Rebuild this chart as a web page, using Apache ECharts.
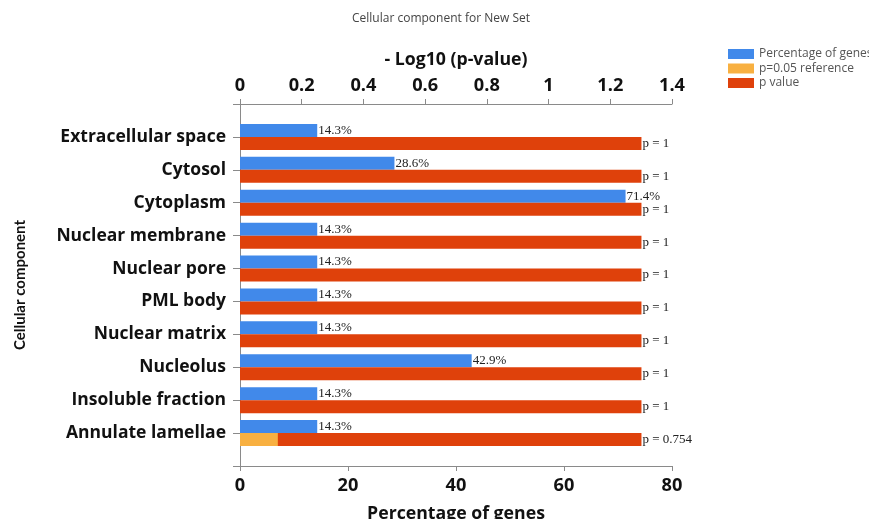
<!DOCTYPE html>
<html>
<head>
<meta charset="utf-8">
<script src="https://cdn.jsdelivr.net/npm/echarts@6/dist/echarts.min.js"></script>
<style>html,body{margin:0;padding:0;background:#fff}#c{width:869px;height:519px}</style>
</head>
<body>
<div id="c"></div>
<script>
const categories = ['Extracellular space','Cytosol','Cytoplasm','Nuclear membrane','Nuclear pore','PML body','Nuclear matrix','Nucleolus','Insoluble fraction','Annulate lamellae'];
const percentGenes = [14.3, 28.6, 71.4, 14.3, 14.3, 14.3, 14.3, 42.9, 14.3, 14.3];
const pValues = [1, 1, 1, 1, 1, 1, 1, 1, 1, 0.754];
const pReference = 0.05;
const bottomTicks = {min: 0, max: 80, interval: 20};
const topTicks = {min: 0, max: 1.4, interval: 0.2};

// pad with an empty slot at each end (the original axis leaves one step free at top and bottom)
const yCats = [''].concat(categories, ['']);
const pad = arr => [null].concat(arr, [null]);
const pctData = pad(percentGenes);
const refData = pad(pValues.map(() => -Math.log10(pReference)));
const logPData = pad(pValues.map(p => -Math.log10(p)));
const emptyData = pad(pValues.map(() => null));

// choose font sizes so that text widths match the reference picture
const boldFont = 'Open Sans';
const mctx = document.createElement('canvas').getContext('2d');
function fit(text, family, weight, target) {
  mctx.font = weight + ' 100px "' + family + '"';
  return Math.round(target / mctx.measureText(text).width * 1000) / 10;
}
const catSize = fit('Extracellular space', boldFont, 'bold', 166);
const nameSize = fit('Percentage of genes', boldFont, 'bold', 178);
const tickSize = fit('0.2', boldFont, 'bold', 26);
const yNameSize = fit('Cellular component', 'Lato', 'bold', 130);

const axisGray = '#8a8a8a';
const labelStyle = {show: true, position: 'right', distance: 1, fontFamily: 'Liberation Serif', fontSize: 13, color: '#222'};

const chart = echarts.init(document.getElementById('c'), null, {renderer: 'canvas'});
chart.setOption({
  animation: false,
  backgroundColor: '#fff',
  title: {
    text: 'Cellular component for New Set',
    left: 347, top: 8,
    textStyle: {fontFamily: 'Open Sans', fontSize: 12, fontWeight: 'normal', color: '#444'}
  },
  legend: {
    data: ['Percentage of genes', 'p=0.05 reference', 'p value'],
    orient: 'vertical', left: 723, top: 43,
    itemWidth: 26, itemHeight: 10, itemGap: 2.5, icon: 'rect',
    textStyle: {fontFamily: 'Open Sans', fontSize: 12, color: '#555'}
  },
  grid: {left: 240, right: 197, top: 104, bottom: 53, containLabel: false, outerBoundsMode: 'none'},
  xAxis: [
    {
      type: 'value', position: 'bottom', min: bottomTicks.min, max: bottomTicks.max, interval: bottomTicks.interval,
      name: 'Percentage of genes', nameLocation: 'middle', nameGap: 39,
      nameTextStyle: {fontFamily: boldFont, fontWeight: 'bold', fontSize: nameSize, color: '#111'},
      axisLine: {show: true, lineStyle: {color: axisGray}},
      axisTick: {show: true, length: 5, lineStyle: {color: axisGray}},
      axisLabel: {fontFamily: boldFont, fontWeight: 'bold', fontSize: tickSize, color: '#111', margin: 11},
      splitLine: {show: false}
    },
    {
      type: 'value', position: 'top', min: topTicks.min, max: topTicks.max, interval: topTicks.interval,
      name: '- Log10 (p-value)', nameLocation: 'middle', nameGap: 35,
      nameTextStyle: {fontFamily: boldFont, fontWeight: 'bold', fontSize: nameSize, color: '#111'},
      axisLine: {show: true, lineStyle: {color: axisGray}},
      axisTick: {show: true, length: 5, lineStyle: {color: axisGray}},
      axisLabel: {fontFamily: boldFont, fontWeight: 'bold', fontSize: tickSize, color: '#111', margin: 9},
      splitLine: {show: false}
    }
  ],
  yAxis: [
    {
      type: 'category', data: yCats, inverse: true, boundaryGap: false,
      name: 'Cellular component', nameLocation: 'middle', nameGap: 212, nameRotate: 90,
      nameTextStyle: {fontFamily: 'Lato', fontWeight: 'bold', fontSize: yNameSize, color: '#111'},
      axisLine: {show: true, lineStyle: {color: axisGray}},
      axisTick: {show: true, length: 7, alignWithLabel: true, lineStyle: {color: axisGray}},
      axisLabel: {fontFamily: boldFont, fontWeight: 'bold', fontSize: catSize, color: '#111', margin: 14, interval: 0},
      splitLine: {show: false}
    },
    {
      type: 'category', data: yCats, inverse: true, boundaryGap: false, show: false
    }
  ],
  series: [
    {
      name: 'Percentage of genes', type: 'bar', xAxisIndex: 0, yAxisIndex: 0,
      data: pctData, barWidth: 13, barGap: '0%',
      itemStyle: {color: '#4189EA'},
      label: Object.assign({}, labelStyle, {formatter: p => p.value + '%'})
    },
    {
      name: 'p value', type: 'bar', xAxisIndex: 1, yAxisIndex: 0,
      data: refData, barWidth: 13, barGap: '0%',
      itemStyle: {color: '#DF410B'},
      label: Object.assign({}, labelStyle, {formatter: p => 'p = ' + pValues[p.dataIndex - 1]})
    },
    {
      name: '_slot', type: 'bar', xAxisIndex: 0, yAxisIndex: 1,
      data: emptyData, barWidth: 13, barGap: '0%', silent: true
    },
    {
      name: 'p=0.05 reference', type: 'bar', xAxisIndex: 1, yAxisIndex: 1,
      data: logPData, barWidth: 13, barGap: '0%',
      itemStyle: {color: '#F8B041'}
    }
  ]
});
</script>
</body>
</html>
